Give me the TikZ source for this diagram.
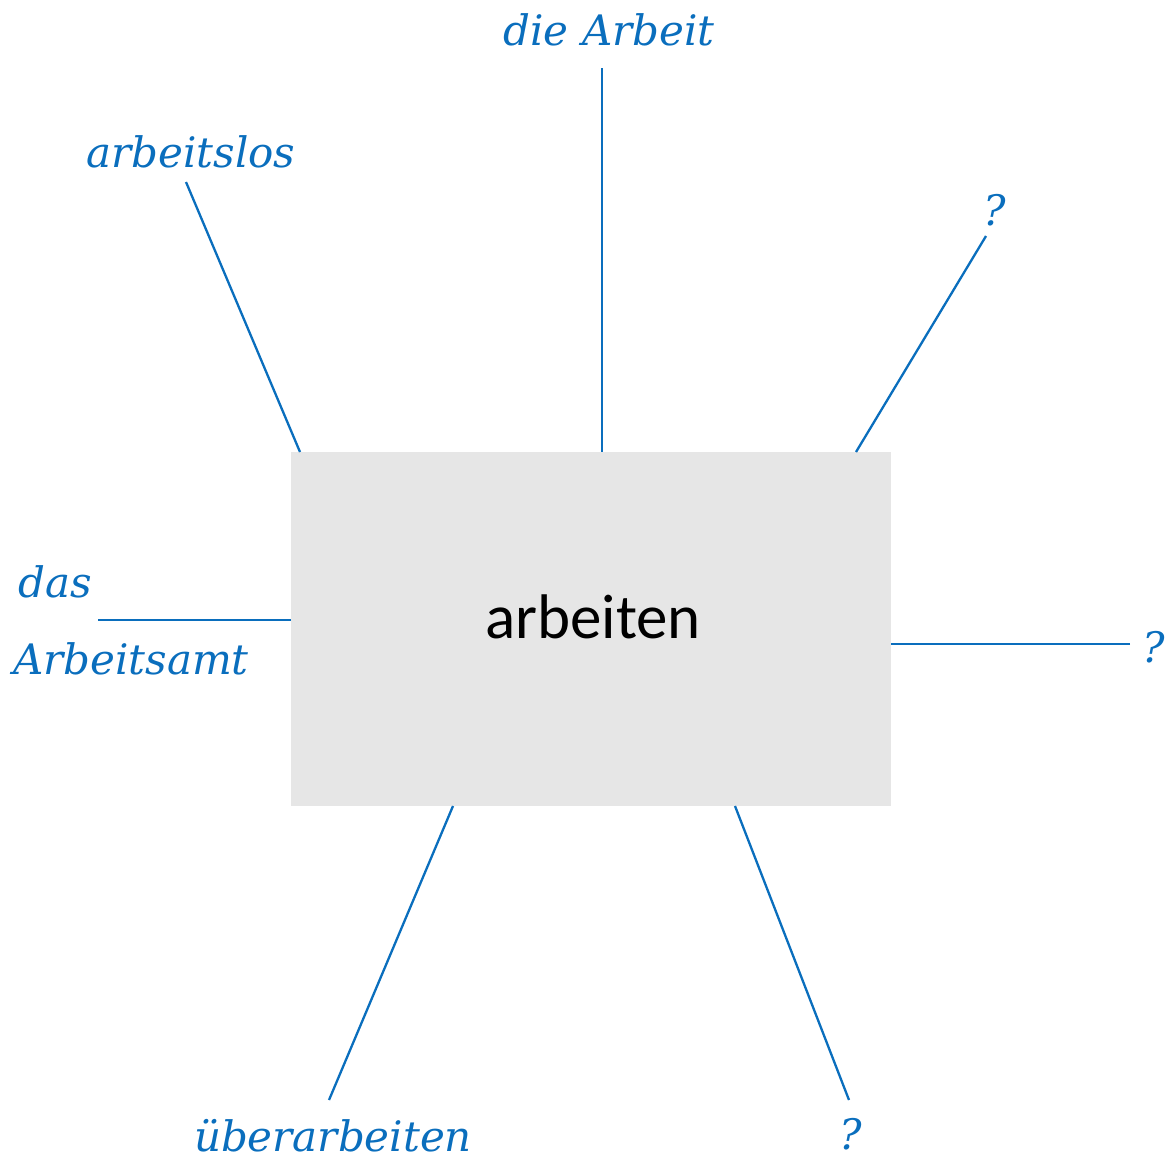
\documentclass[tikz,border=0pt]{standalone}
\usepackage{fontspec}
\setmainfont{Carlito}
\newfontfamily\handfont{DejaVu Serif}[ItalicFont={DejaVu Serif Italic}]
\definecolor{inkblue}{HTML}{0A6EBD}
\definecolor{boxgray}{HTML}{E6E6E6}
\begin{document}
\begin{tikzpicture}[x=1pt,y=-1pt,
  hand/.style={text=inkblue,font=\handfont\itshape\fontsize{42}{46}\selectfont,inner sep=0pt,anchor=center},
  link/.style={draw=inkblue,line width=2.3pt}]
\useasboundingbox (0,0) rectangle (1166,1162);
\node[fill=boxgray,minimum width=600pt,minimum height=354pt,inner sep=0pt] (box) at (591,629) {};
\node[inner sep=0pt,font=\fontsize{63}{68}\selectfont] (title) at (593,617) {arbeiten};
% labels
\node[hand] (l1) at (609,30) {die Arbeit};
\node[hand] (l2) at (191,152) {arbeitslos};
\node[hand] (l3) at (995,210) {?};
\node[hand] (l4a) at (55,582) {das};
\node[hand] (l4b) at (131,659) {Arbeitsamt};
\node[hand] (l5) at (1154,647) {?};
\node[hand] (l6) at (333,1136) {überarbeiten};
\node[hand] (l7) at (851,1134) {?};
% connector ends
\coordinate (e1) at (602,68);   \coordinate (b1) at (602,452);
\coordinate (e2) at (186,182);  \coordinate (b2) at (300,452);
\coordinate (e3) at (986,236);  \coordinate (b3) at (856,452);
\coordinate (e4) at (98,620);   \coordinate (b4) at (291,620);
\coordinate (e5) at (1130,644); \coordinate (b5) at (891,644);
\coordinate (e6) at (329,1100); \coordinate (b6) at (453,806);
\coordinate (e7) at (849,1100); \coordinate (b7) at (735,806);
\foreach \i in {1,...,7} {\draw[link] (e\i) -- (b\i);}
\end{tikzpicture}
\end{document}
